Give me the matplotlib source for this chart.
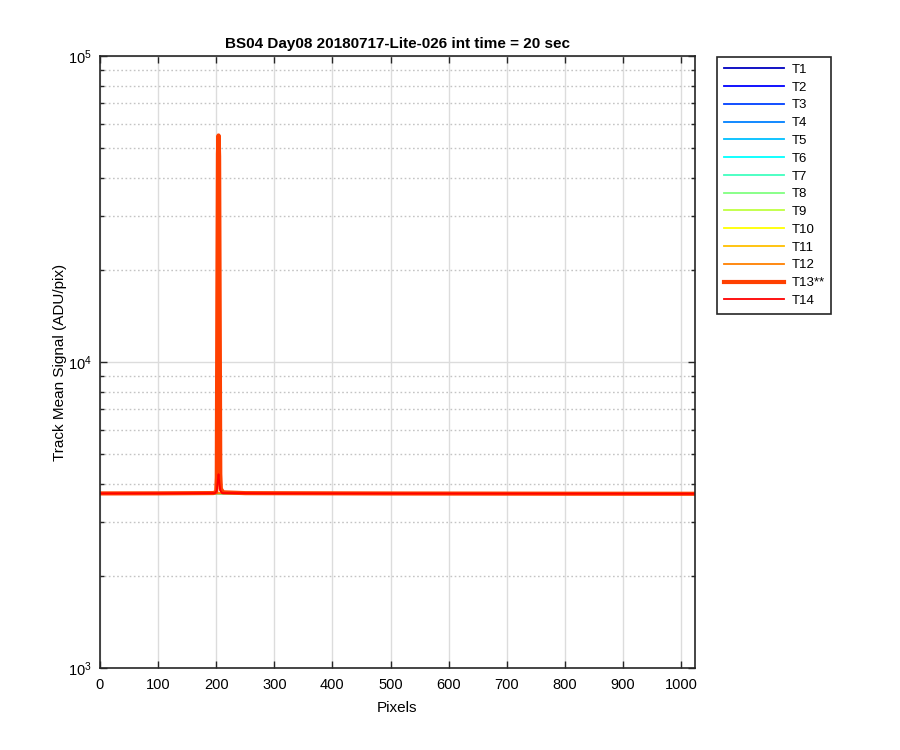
import matplotlib
matplotlib.use('Agg')
import matplotlib.pyplot as plt
from matplotlib.ticker import LogLocator, MultipleLocator

plt.rcParams['font.family'] = ['Liberation Sans', 'DejaVu Sans']
plt.rcParams['mathtext.fontset'] = 'custom'
plt.rcParams['mathtext.rm'] = 'Liberation Sans'

# track names shown in the legend
track_names = ['T1', 'T2', 'T3', 'T4', 'T5', 'T6', 'T7', 'T8', 'T9', 'T10',
               'T11', 'T12', 'T13**', 'T14']

# flat tracks (T1..T12) - all sit on the same baseline, hidden under T13
flat_pix = [1, 100, 200, 300, 500, 700, 900, 1024]
flat_sig = [3720, 3722, 3725, 3722, 3718, 3715, 3712, 3710]

# T13 - the saturated track with the big spike near pixel 204
t13_pix = [1, 100, 195, 200, 201, 202, 203, 204, 205, 206, 207, 208, 212, 250, 500, 800, 1024]
t13_sig = [3720, 3722, 3730, 3760, 4200, 16000, 48000, 55000, 47000, 14000, 4300, 3850,
           3750, 3728, 3718, 3712, 3710]

# T14 - small bump at the same place
t14_pix = [1, 100, 198, 201, 203, 204, 205, 207, 210, 300, 600, 1024]
t14_sig = [3720, 3722, 3728, 3800, 4150, 4300, 4100, 3800, 3730, 3722, 3716, 3710]

# jet(16), first 14 entries
colors = [(0, 0, 0.75), (0, 0, 1), (0, 0.25, 1), (0, 0.5, 1), (0, 0.75, 1),
          (0, 1, 1), (0.25, 1, 0.75), (0.5, 1, 0.5), (0.75, 1, 0.25), (1, 1, 0),
          (1, 0.75, 0), (1, 0.5, 0), (1, 0.25, 0), (1, 0, 0)]

fig = plt.figure(figsize=(9, 7.5), dpi=100)
ax = fig.add_axes([100/900, 1-668/750, 595/900, (668-56)/750])

for i, name in enumerate(track_names):
    if i == 12:
        ax.plot(t13_pix, t13_sig, color=colors[i], lw=3.0, label=name)
    elif i == 13:
        ax.plot(t14_pix, t14_sig, color=colors[i], lw=1.3, label=name)
    else:
        ax.plot(flat_pix, flat_sig, color=colors[i], lw=1.3, label=name)

ax.set_yscale('log')
ax.set_xlim(0, 1024)
ax.set_ylim(1e3, 1e5)
ax.xaxis.set_major_locator(MultipleLocator(100))
ax.yaxis.set_major_locator(LogLocator(base=10, numticks=10))
ax.yaxis.set_minor_locator(LogLocator(base=10, subs=range(2, 10), numticks=20))

ax.grid(True, which='major', color='#dcdcdc', lw=1.0, ls='-')
ax.grid(True, which='minor', axis='y', color='#c4c4c4', lw=1.0, ls=(0, (1.2, 1.8)))
ax.set_axisbelow(True)

ax.tick_params(which='both', direction='in', top=True, right=True, colors='#262626',
               labelsize=10.5, labelcolor='black')
ax.tick_params(which='major', length=5, width=1.0)
ax.tick_params(which='minor', length=3, width=1.0)
ax.tick_params(axis='x', pad=7)
ax.tick_params(axis='y', pad=6)
for s in ax.spines.values():
    s.set_color('#262626')
    s.set_linewidth(1.2)

ax.set_title('BS04 Day08 20180717-Lite-026 int time = 20 sec', fontsize=11,
             fontweight='bold', pad=6)
ax.set_xlabel('Pixels', fontsize=11, labelpad=7)
ax.set_ylabel('Track Mean Signal (ADU/pix)', fontsize=11, labelpad=1)

leg = fig.legend(loc='upper left', bbox_to_anchor=(717/900, 1-57/750), fontsize=9.5,
                 handlelength=4.6, handletextpad=0.55, labelspacing=0.42,
                 borderaxespad=0, borderpad=0.5, fancybox=False, framealpha=1)
leg.get_frame().set_edgecolor('#262626')
leg.get_frame().set_linewidth(1.2)

fig.savefig('out.png', dpi=100)
